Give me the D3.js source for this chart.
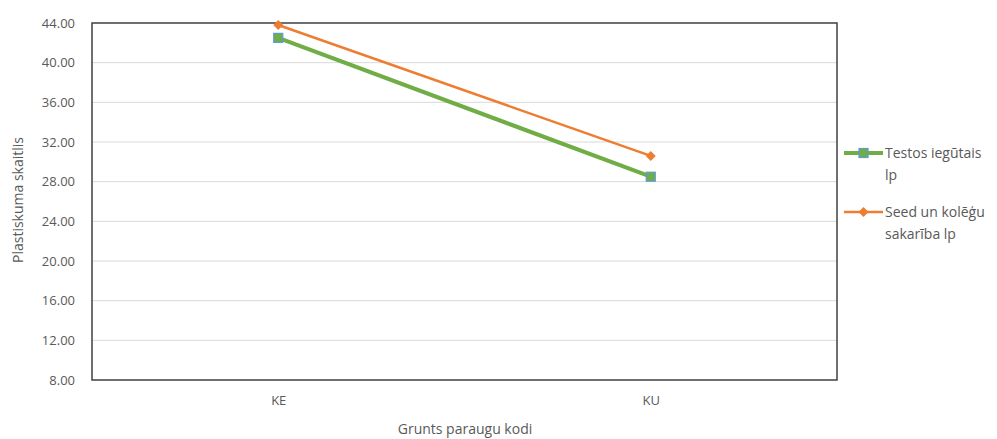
<!DOCTYPE html>
<html><head><meta charset="utf-8">
<script src="https://cdn.jsdelivr.net/npm/d3@7"></script>
<style>body{margin:0;background:#fff}svg{display:block}text{font-family:"Open Sans","Liberation Sans",sans-serif}</style>
</head><body><svg id="c" width="997" height="439"></svg>
<script>
const categories = ["KE", "KU"];
const seriesNames = ["Testos iegūtais lp", "Seed un kolēģu sakarība lp"];
const testosValues = [42.5, 28.5];
const seedValues = [43.8, 30.6];
const yTicks = [8, 12, 16, 20, 24, 28, 32, 36, 40, 44];

const svg = d3.select("#c");
const m = {l: 92, t: 23, r: 837, b: 380};
const x = d3.scalePoint().domain(categories).range([m.l, m.r]).padding(0.5);
const y = d3.scaleLinear().domain([8, 44]).range([m.b, m.t]);
const txt = "#595959";

// gridlines
svg.append("g").selectAll("line").data(yTicks.slice(1, -1)).join("line")
  .attr("x1", m.l).attr("x2", m.r).attr("y1", d => y(d)).attr("y2", d => y(d))
  .attr("stroke", "#d9d9d9").attr("stroke-width", 1);

// border
svg.append("rect").attr("x", m.l).attr("y", m.t).attr("width", m.r - m.l).attr("height", m.b - m.t)
  .attr("fill", "none").attr("stroke", "#404040").attr("stroke-width", 1.5);

// y axis
const ya = svg.append("g").attr("transform", `translate(${m.l},0)`)
  .call(d3.axisLeft(y).tickValues(yTicks).tickFormat(d3.format(".2f")).tickSize(0).tickPadding(17));
ya.select(".domain").remove();
ya.selectAll("text").attr("fill", txt).style("font-size", "13px").style("font-family", '"Open Sans","Liberation Sans",sans-serif');

// x axis
const xa = svg.append("g").attr("transform", `translate(0,${m.b})`)
  .call(d3.axisBottom(x).tickSize(0).tickPadding(16));
xa.select(".domain").remove();
xa.selectAll("text").attr("fill", txt).style("font-size", "13px").style("font-family", '"Open Sans","Liberation Sans",sans-serif');

// titles
svg.append("text").attr("x", 465).attr("y", 434).attr("text-anchor", "middle")
  .attr("fill", txt).style("font-size", "14px").text("Grunts paraugu kodi");
svg.append("text").attr("transform", "translate(23,200) rotate(-90)").attr("text-anchor", "middle")
  .attr("fill", txt).style("font-size", "14px").text("Plastiskuma skaitlis");

const line = d3.line().x((d, i) => x(categories[i])).y(d => y(d));
const green = "#70ad47", orange = "#ed7d31";

// orange series
svg.append("path").datum(seedValues).attr("d", line).attr("fill", "none")
  .attr("stroke", orange).attr("stroke-width", 2.5);
svg.append("g").selectAll("path").data(seedValues).join("path")
  .attr("d", d3.symbol().type(d3.symbolSquare).size(50))
  .attr("transform", (d, i) => `translate(${x(categories[i])},${y(d)}) rotate(45)`)
  .attr("fill", orange);

// green series
svg.append("path").datum(testosValues).attr("d", line).attr("fill", "none")
  .attr("stroke", green).attr("stroke-width", 4);
svg.append("g").selectAll("rect").data(testosValues).join("rect")
  .attr("x", (d, i) => x(categories[i]) - 4.5).attr("y", d => y(d) - 4.5)
  .attr("width", 9).attr("height", 9).attr("fill", green).attr("stroke", "#5b9bd5").attr("stroke-width", 1.2);

// legend
const lg = svg.append("g");
lg.append("line").attr("x1", 844).attr("x2", 883).attr("y1", 153).attr("y2", 153).attr("stroke", green).attr("stroke-width", 4);
lg.append("rect").attr("x", 859).attr("y", 148.5).attr("width", 9).attr("height", 9).attr("fill", green).attr("stroke", "#5b9bd5").attr("stroke-width", 1.2);
lg.append("line").attr("x1", 844).attr("x2", 883).attr("y1", 212).attr("y2", 212).attr("stroke", orange).attr("stroke-width", 2.5);
lg.append("path").attr("d", d3.symbol().type(d3.symbolSquare).size(50)).attr("transform", "translate(863.5,212) rotate(45)").attr("fill", orange);
const legLines = [["Testos iegūtais", "lp"], ["Seed un kolēģu", "sakarība lp"]];
legLines.forEach((ls, k) => {
  const t = lg.append("text").attr("x", 885).attr("y", (k ? 212 : 153) + 5).attr("fill", txt).style("font-size", "14px");
  ls.forEach((s, j) => t.append("tspan").attr("x", 885).attr("dy", j ? 22 : 0).text(s));
});
</script></body></html>
